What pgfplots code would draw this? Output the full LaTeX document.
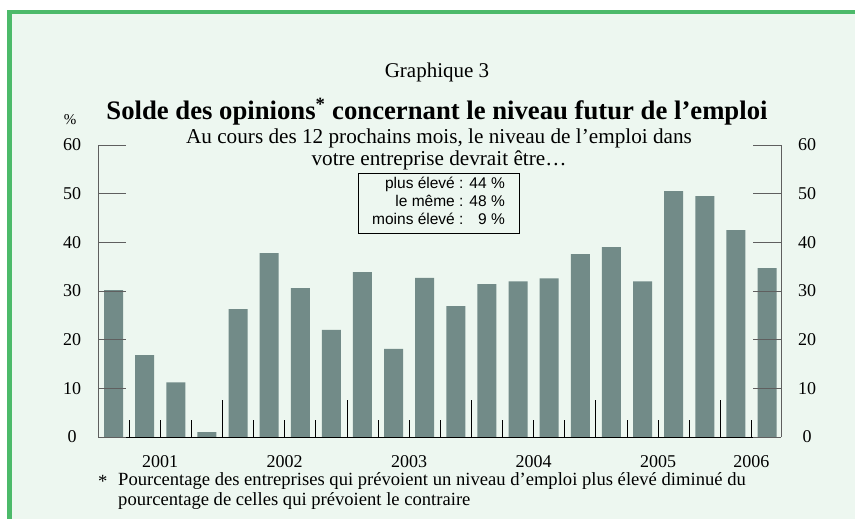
\documentclass[border=0pt]{standalone}
\usepackage{fontspec}
\setmainfont{Liberation Serif}
\newfontfamily\legendfont{Liberation Sans}
\usepackage{pgfplots}
\usepackage{pgfplotstable}
\pgfplotsset{compat=1.18}
\definecolor{bg}{RGB}{237,247,240}
\definecolor{frame}{RGB}{76,186,106}
\definecolor{barc}{RGB}{114,139,136}
\definecolor{axgray}{RGB}{95,95,95}

\pgfplotstableread{
x y
0 30.2
1 16.8
2 11.2
3 1.0
4 26.3
5 37.8
6 30.6
7 22.0
8 33.9
9 18.1
10 32.7
11 26.9
12 31.4
13 32.0
14 32.6
15 37.6
16 39.0
17 32.0
18 50.5
19 49.5
20 42.5
21 34.7
}\datatable

\pgfplotsset{
 common/.style={
   at={(98bp,82bp)}, anchor=south west, scale only axis,
   width=683bp, height=292bp,
   xmin=-0.5, xmax=21.45, ymin=0, ymax=60,
   /pgf/number format/assume math mode=true,
   tick label style={font=\fontsize{18bp}{20bp}\selectfont},
 },
}
\tikzset{yearlab/.style={font=\fontsize{18bp}{20bp}\selectfont, inner sep=0pt, yshift=-25bp}}

\begin{document}
\begin{tikzpicture}[x=1bp,y=1bp]
\path[use as bounding box] (0,0) rectangle (855,519);
\fill[bg] (7,0) rectangle (855,509);
\fill[frame] (7,505) rectangle (855,509);
\fill[frame] (7,0) rectangle (12,509);

% bars
\begin{axis}[common, hide axis, clip=false]
\addplot[ybar, bar width=19bp, fill=barc, draw=none] table[x=x,y=y] {\datatable};
\node[yearlab] at (axis cs:1.5,0) {2001};
\node[yearlab] at (axis cs:5.5,0) {2002};
\node[yearlab] at (axis cs:9.5,0) {2003};
\node[yearlab] at (axis cs:13.5,0) {2004};
\node[yearlab] at (axis cs:17.5,0) {2005};
\node[yearlab] at (axis cs:20.5,0) {2006};
\end{axis}

% bottom axis with ticks
\begin{axis}[common,
  axis x line*=bottom, axis y line=none,
  tick align=inside,
  x axis line style={black, line width=0.9bp},
  xtick={0.5,1.5,2.5,4.5,5.5,6.5,8.5,9.5,10.5,12.5,13.5,14.5,16.5,17.5,18.5,20.5},
  xticklabels={},
  major tick length=17bp,
  xtick style={black, line width=0.8bp},
  extra x ticks={3.5,7.5,11.5,15.5,19.5},
  extra x tick labels={},
  extra x tick style={major tick length=37bp, tick align=inside, xtick style={black, line width=0.8bp}},
]
\end{axis}

% left y axis
\begin{axis}[common,
  axis y line*=left, axis x line=none,
  tick align=inside,
  ytick={0,10,...,60},
  major tick length=28bp,
  y axis line style={axgray, line width=0.9bp},
  ytick style={axgray, line width=0.9bp},
  yticklabel style={anchor=center, xshift=-26bp},
]
\end{axis}

% right y axis
\begin{axis}[common,
  axis y line*=right, axis x line=none,
  tick align=inside,
  ytick={0,10,...,60},
  major tick length=28bp,
  y axis line style={axgray, line width=0.9bp},
  ytick style={axgray, line width=0.9bp},
  yticklabel style={anchor=center, xshift=26bp},
]
\end{axis}

\node[font=\fontsize{15bp}{17bp}\selectfont] at (70,399) {\%};
\node[font=\fontsize{21bp}{22bp}\selectfont] at (437,447) {Graphique 3};
\node[font=\fontsize{26.7bp}{30bp}\selectfont\bfseries] at (437,407)
  {Solde des opinions\textsuperscript{*} concernant le niveau futur de l’emploi};
\node[font=\fontsize{21.2bp}{22bp}\selectfont, align=center] at (439,370)
  {Au cours des 12 prochains mois, le niveau de l’emploi dans\\votre entreprise devrait être…};

\node[draw=black, line width=0.6bp, minimum width=161bp, minimum height=60bp, inner sep=0pt,
  font=\legendfont\fontsize{15.5bp}{17.7bp}\selectfont] at (438.5,316)
  {\begin{tabular}{@{}r@{\hspace{6bp}}r@{}}plus élevé~: & 44~\% \\ le même~: & 48~\% \\ moins élevé~: & 9~\%\end{tabular}};

\node[anchor=west, inner sep=0pt, font=\fontsize{18.6bp}{20bp}\selectfont] at (98,38) {*};
\node[anchor=west, inner sep=0pt, font=\fontsize{18.6bp}{20bp}\selectfont] at (118,38)
  {Pourcentage des entreprises qui prévoient un niveau d’emploi plus élevé diminué du};
\node[anchor=west, inner sep=0pt, font=\fontsize{18.6bp}{20bp}\selectfont] at (118,18)
  {pourcentage de celles qui prévoient le contraire};
\end{tikzpicture}
\end{document}
